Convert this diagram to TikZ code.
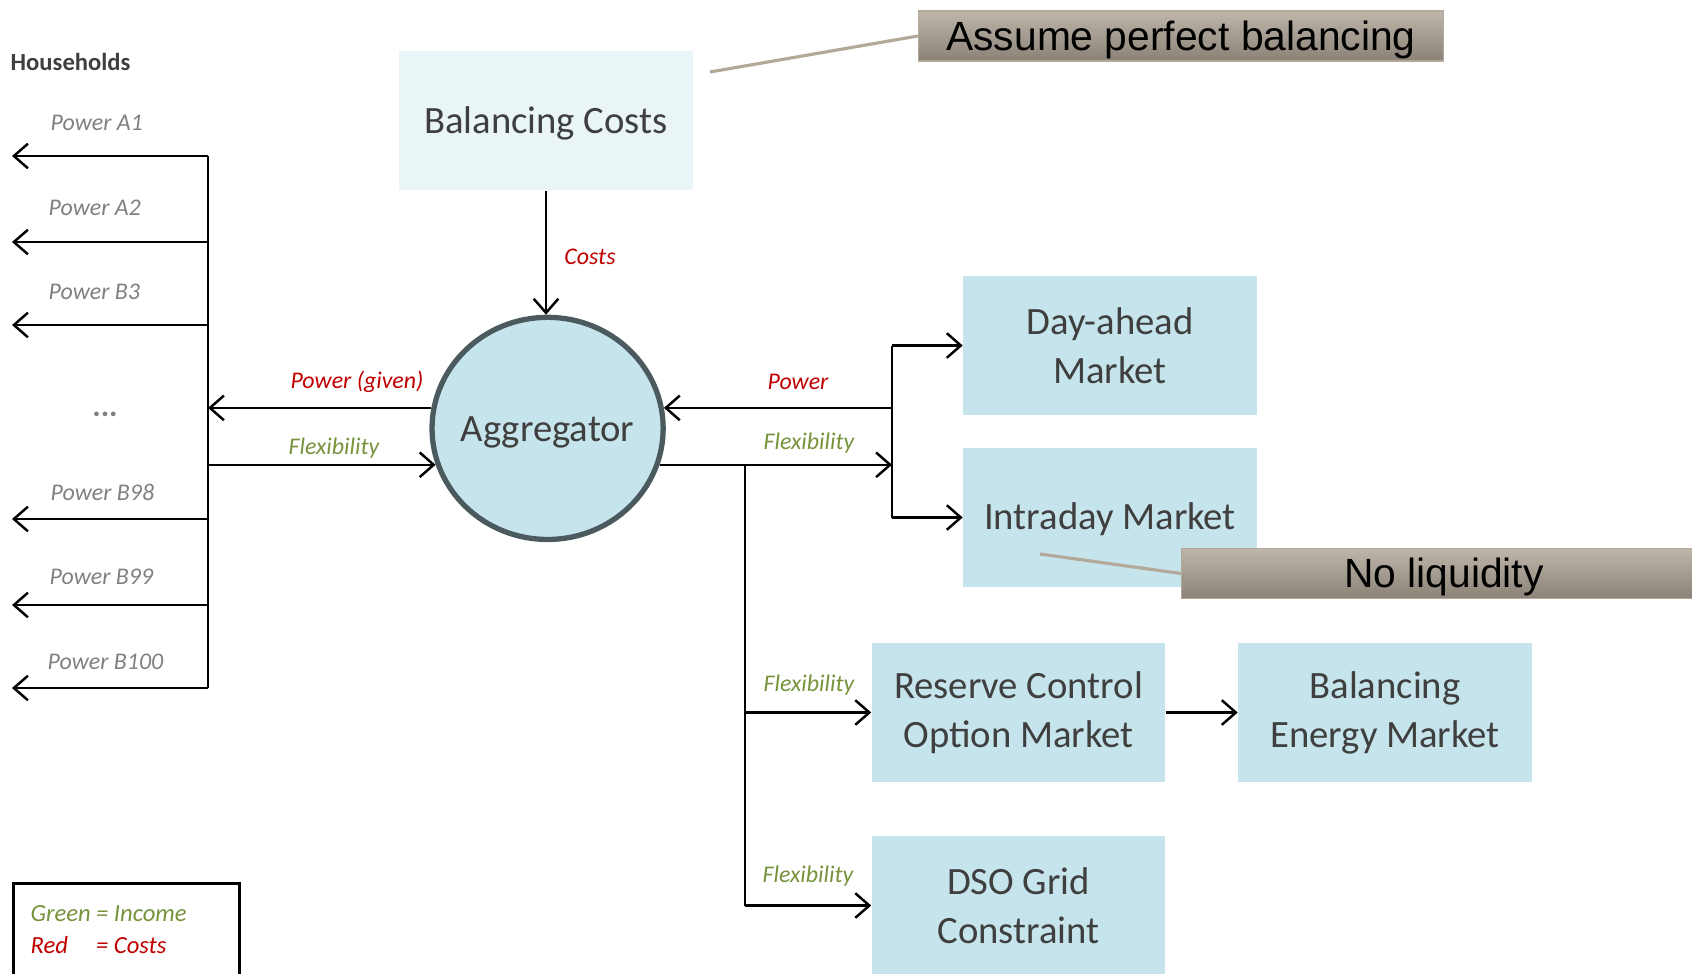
\documentclass[tikz,border=0pt]{standalone}
\usepackage{fontspec}
\setmainfont{Carlito}
\newfontfamily\arialfont{Liberation Sans}
\usetikzlibrary{arrows.meta,shapes.geometric}
\definecolor{boxblue}{HTML}{C6E4EC}
\definecolor{boxpale}{HTML}{EAF5F8}
\definecolor{txtdark}{HTML}{3F3F3F}
\definecolor{lblgray}{HTML}{808080}
\definecolor{costred}{HTML}{C00000}
\definecolor{incgreen}{HTML}{77933C}
\definecolor{calltop}{HTML}{BEB6AA}
\definecolor{callbot}{HTML}{8A8276}
\definecolor{callline}{HTML}{B3A998}
\definecolor{ringgray}{HTML}{4B5A5E}
\begin{document}
\begin{tikzpicture}[x=0.01cm,y=-0.01cm,
  mbox/.style={rectangle, fill=boxblue, minimum width=2.93cm, minimum height=1.39cm,
    align=center, text=txtdark, font=\fontsize{11}{14}\selectfont, inner sep=0pt},
  oneline/.style={text height=9.6pt, text depth=2.5pt},
  callbox/.style={rectangle, minimum width=5.25cm, minimum height=0.5cm, inner sep=0pt,
    top color=calltop, bottom color=callbot, draw=callline, line width=0.3pt,
    font=\arialfont\fontsize{11.6}{14}\selectfont, text=black,
    text height=10.6pt, text depth=2.4pt},
  lbl/.style={font=\fontsize{6.8}{8}\selectfont\itshape, inner sep=0pt},
  wire/.style={line width=0.7pt, draw=black},
  arr/.style={wire, -{Straight Barb[length=4pt,width=7pt]}},
  cline/.style={draw=callline, line width=0.9pt}
]
\useasboundingbox (0,0) rectangle (1692,973);

% main boxes
\node[mbox, oneline, fill=boxpale, text height=10pt] (bc) at (546,120.5) {Balancing Costs};
\node[ellipse, fill=boxblue, draw=ringgray, line width=1.5pt, minimum width=2.31cm,
  minimum height=2.22cm, inner sep=0pt, text=txtdark, font=\fontsize{11}{14}\selectfont,
  text height=10pt, text depth=2.5pt]
  (agg) at (547.6,428.4) {\makebox[0pt]{Aggregator}};
\node[mbox] (da) at (1110,345.5) {Day-ahead\\Market};
\node[mbox, oneline] (id) at (1110,517.5) {Intraday Market};
\node[mbox] (rc) at (1018.5,712.5) {Reserve Control\\Option Market};
\node[mbox] (be) at (1385,712.5) {Balancing\\Energy Market};
\node[mbox] (dso) at (1018.5,905.5) {DSO Grid\\Constraint};

% callouts
\node[callbox] (apb) at (1181,36) {Assume perfect balancing};
\coordinate (apbtail) at (710,72);
\draw[cline] (apbtail) -- (apb.west);
\coordinate (nltail) at (1040,554);
\draw[cline] (nltail) -- (1181,573.5);
\node[callbox] (nl) at (1444,573.5) {No liquidity};

% households
\node[font=\fontsize{7}{8}\selectfont\bfseries, text=txtdark, anchor=west, inner sep=0pt]
  (hh) at (10,62) {Households};
\coordinate (lbus) at (208,156);
\coordinate (lbusend) at (208,688);
\draw[wire] (lbus) -- (lbusend);
\coordinate (tA1) at (12,156);
\coordinate (tA2) at (12,242);
\coordinate (tB3) at (12,325);
\coordinate (tB98) at (12,519);
\coordinate (tB99) at (12,605);
\coordinate (tB100) at (12,688);
\draw[arr] (lbus |- tA1) -- (tA1);
\draw[arr] (lbus |- tA2) -- (tA2);
\draw[arr] (lbus |- tB3) -- (tB3);
\draw[arr] (lbus |- tB98) -- (tB98);
\draw[arr] (lbus |- tB99) -- (tB99);
\draw[arr] (lbus |- tB100) -- (tB100);
\node[lbl, text=lblgray, anchor=west] (lA1) at (50,123) {Power A1};
\node[lbl, text=lblgray, anchor=west] (lA2) at (48,208) {Power A2};
\node[lbl, text=lblgray, anchor=west] (lB3) at (48,292) {Power B3};
\node[lbl, text=lblgray, anchor=west] (lB98) at (50,492) {Power B98};
\node[lbl, text=lblgray, anchor=west] (lB99) at (49,577) {Power B99};
\node[lbl, text=lblgray, anchor=west] (lB100) at (47,662) {Power B100};
\node[text=lblgray, font=\fontsize{9}{10}\selectfont\bfseries, inner sep=0pt] (dots) at (105,414) {...};

% aggregator links
\draw[arr] (bc.south) -- (bc.south |- agg.north);
\node[lbl, text=costred] (lcosts) at (590,257) {Costs};
\draw[arr] (agg.170) -- (agg.170 -| lbus);
\node[lbl, text=costred] (lpg) at (357,382) {Power (given)};
\draw[arr] (agg.198.6 -| lbus) -- (agg.198.6);
\node[lbl, text=incgreen] (lfl) at (334,448) {Flexibility};

\coordinate (rbus) at (892,351);
\coordinate (fb) at (745,466);
\draw[arr] (agg.10 -| rbus) -- (agg.10);
\node[lbl, text=costred] (lpw) at (798,382) {Power};
\draw[arr] (agg.-18.6) -- (agg.-18.6 -| rbus);
\node[lbl, text=incgreen] (lfr) at (809,443) {Flexibility};
\draw[wire] (rbus |- da) -- (rbus |- id);
\draw[arr] (rbus |- da) -- (da.west);
\draw[arr] (rbus |- id) -- (id.west);

\draw[wire] (agg.-18.6 -| fb) -- (fb |- dso);
\draw[arr] (fb |- rc) -- (rc.west);
\draw[arr] (fb |- dso) -- (dso.west);
\node[lbl, text=incgreen] (lfrc) at (809,685) {Flexibility};
\node[lbl, text=incgreen] (lfdso) at (808,876) {Flexibility};
\draw[arr] (rc.east) -- (be.west);

% legend
\node[draw=black, line width=0.8pt, anchor=north west, minimum width=2.26cm,
  minimum height=1.2cm, inner sep=0pt] (legend) at (12,882) {};
\node[anchor=west, inner sep=0pt, font=\fontsize{7}{9.1}\selectfont\itshape] (legtxt) at (30,931)
  {\begin{tabular}{@{}l@{\hspace{1.5pt}}l@{}}
   \textcolor{incgreen}{Green} & \textcolor{incgreen}{= Income}\\
   \textcolor{costred}{Red} & \textcolor{costred}{= Costs}
   \end{tabular}};
\end{tikzpicture}
\end{document}
